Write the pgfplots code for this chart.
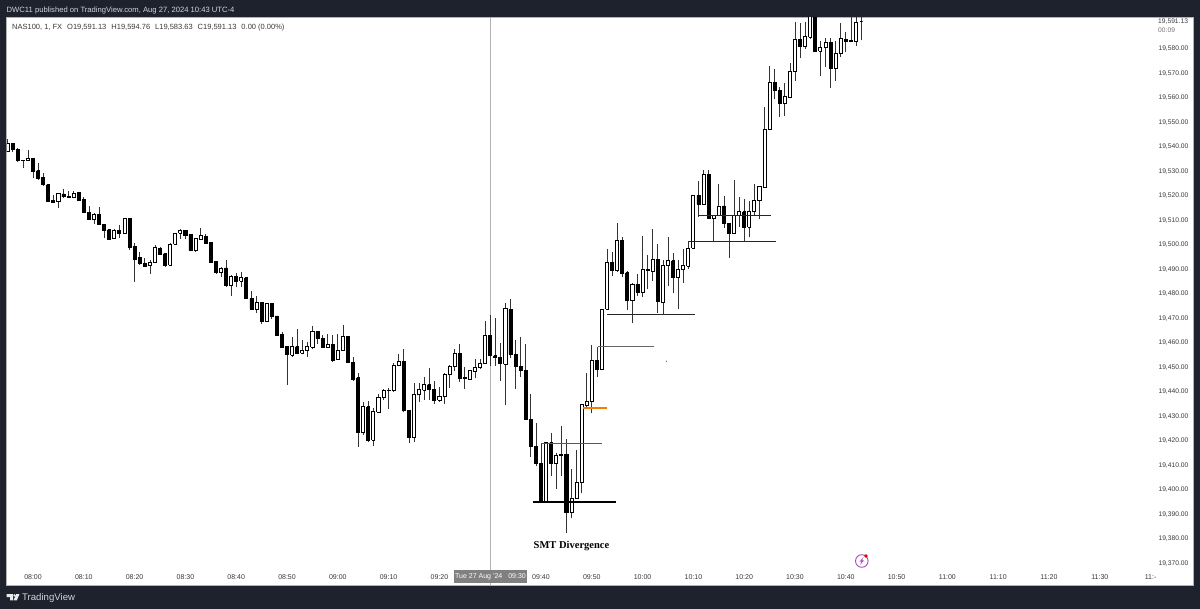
\documentclass[border=0pt]{standalone}
\usepackage{fontspec}
\setmainfont{Liberation Sans}
\newfontfamily\smtfont{Liberation Serif}
\usepackage{pgfplots}
\usepackage{pgfplotstable}
\pgfplotsset{compat=1.18}
\definecolor{frame}{HTML}{1E222D}
\definecolor{hdr}{HTML}{D1D4DC}
\definecolor{txt}{HTML}{3A3A3A}
\pgfplotstableread{
t O H L C
475 19538.3 19543.1 19538.1 19541.5
476 19541.5 19541.5 19538.1 19538.8
477 19538.8 19539.4 19533.7 19534.3
478 19534.3 19534.5 19531.3 19534.5
479 19534.4 19538.6 19534.4 19535.4
480 19535.2 19535.2 19527.2 19530.2
481 19530.3 19533.3 19526.5 19527.2
482 19527.6 19529.5 19524.1 19524.5
483 19524.6 19524.6 19517.7 19517.9
484 19518.3 19520.4 19517.2 19517.5
485 19517.7 19520.9 19515.1 19520.9
486 19520.8 19522.8 19519.2 19519.6
487 19519.7 19522.2 19519.0 19519.3
488 19519.2 19522.2 19519.0 19521.1
489 19521.3 19521.7 19517.9 19518.3
490 19518.6 19519.4 19512.9 19513.3
491 19513.4 19516.0 19510.2 19510.4
492 19510.3 19512.9 19508.5 19512.5
493 19512.5 19515.6 19508.0 19508.3
494 19508.4 19508.4 19502.8 19506.1
495 19506.2 19506.2 19502.1 19502.4
496 19502.6 19506.4 19502.4 19506.0
497 19506.0 19508.3 19502.8 19504.9
498 19504.7 19511.1 19504.5 19510.9
499 19510.9 19510.9 19498.0 19499.0
500 19499.3 19500.6 19485.0 19494.2
501 19494.7 19497.0 19492.0 19492.5
502 19492.5 19494.8 19490.9 19491.4
503 19491.5 19494.0 19488.1 19493.0
504 19492.9 19500.0 19492.5 19498.9
505 19498.7 19499.3 19495.9 19496.2
506 19496.4 19496.7 19491.1 19491.8
507 19491.7 19500.9 19491.4 19500.2
508 19500.2 19505.0 19500.0 19504.9
509 19504.7 19506.4 19502.4 19506.0
510 19506.0 19506.0 19502.4 19504.0
511 19504.2 19504.2 19497.5 19497.8
512 19497.7 19502.8 19497.2 19502.6
513 19502.3 19506.8 19502.0 19503.8
514 19503.6 19504.3 19500.2 19500.6
515 19500.9 19501.2 19492.8 19493.0
516 19493.2 19493.6 19488.1 19488.7
517 19488.7 19491.1 19486.8 19490.6
518 19490.6 19493.8 19482.9 19483.4
519 19483.4 19487.7 19479.1 19487.2
520 19487.2 19488.4 19482.7 19485.3
521 19485.1 19489.1 19483.0 19486.6
522 19486.6 19486.6 19478.0 19478.1
523 19478.2 19481.2 19473.6 19473.8
524 19473.7 19479.3 19472.3 19476.6
525 19476.6 19476.6 19467.8 19468.7
526 19468.8 19476.4 19468.5 19476.2
527 19476.2 19476.2 19469.6 19470.7
528 19471.0 19471.0 19462.9 19463.2
529 19463.5 19464.3 19457.9 19458.2
530 19458.5 19458.5 19442.8 19455.1
531 19454.9 19462.3 19454.2 19458.5
532 19458.5 19465.5 19455.4 19455.7
533 19455.7 19461.2 19455.3 19457.1
534 19456.8 19460.5 19454.4 19458.5
535 19458.2 19467.0 19457.4 19464.6
536 19464.5 19464.7 19459.6 19461.7
537 19461.9 19463.2 19458.0 19458.3
538 19458.3 19463.5 19458.0 19459.4
539 19459.5 19463.2 19452.1 19453.0
540 19453.2 19463.5 19452.9 19457.1
541 19457.0 19467.2 19456.7 19462.8
542 19462.8 19462.8 19451.6 19451.9
543 19452.0 19454.1 19444.6 19445.2
544 19445.7 19447.6 19417.6 19423.6
545 19423.4 19435.7 19422.4 19433.9
546 19433.9 19436.1 19419.5 19420.1
547 19420.2 19433.3 19417.9 19432.2
548 19431.8 19439.1 19431.5 19437.6
549 19437.6 19441.3 19436.7 19440.5
550 19440.4 19441.7 19433.1 19440.6
551 19440.4 19451.9 19440.0 19451.0
552 19450.7 19455.3 19450.6 19452.5
553 19452.6 19457.6 19431.8 19432.3
554 19432.6 19432.6 19419.3 19421.4
555 19421.4 19443.5 19419.5 19438.9
556 19438.9 19443.5 19436.0 19440.8
557 19440.6 19445.9 19436.7 19443.1
558 19443.0 19449.6 19436.7 19440.9
559 19441.0 19444.4 19435.1 19436.7
560 19436.5 19442.1 19436.0 19438.3
561 19438.2 19447.6 19435.1 19447.3
562 19447.0 19451.0 19441.4 19450.4
563 19450.3 19457.4 19448.4 19455.5
564 19455.5 19459.4 19444.2 19445.5
565 19445.4 19450.0 19441.3 19445.8
566 19445.1 19449.0 19444.9 19448.7
567 19448.4 19453.3 19445.5 19450.0
568 19449.8 19453.3 19449.2 19451.7
569 19451.5 19468.9 19451.4 19463.2
570 19463.2 19471.4 19450.6 19454.7
571 19454.8 19470.0 19450.6 19454.0
572 19454.1 19459.8 19444.6 19451.7
573 19451.4 19476.4 19434.6 19474.0
574 19473.8 19477.8 19454.0 19455.3
575 19455.3 19461.2 19441.0 19450.3
576 19450.3 19462.3 19446.2 19448.9
577 19448.9 19459.4 19428.5 19428.8
578 19428.8 19439.0 19413.5 19417.6
579 19417.9 19427.2 19409.9 19410.6
580 19410.8 19419.3 19394.9 19394.9
581 19394.9 19419.3 19394.9 19419.3
582 19419.3 19423.3 19405.8 19410.6
583 19410.6 19414.9 19400.3 19414.1
584 19414.6 19426.0 19405.7 19414.0
585 19414.5 19420.8 19382.5 19390.7
586 19390.7 19408.4 19388.4 19396.7
587 19396.5 19416.3 19396.3 19403.2
588 19403.1 19434.9 19398.6 19434.9
589 19434.6 19447.6 19434.0 19436.1
590 19436.1 19459.1 19431.2 19453.0
591 19453.0 19458.2 19445.9 19449.3
592 19449.2 19473.7 19449.2 19473.7
593 19473.7 19498.2 19473.5 19492.9
594 19492.9 19497.0 19487.3 19489.5
595 19489.4 19509.1 19488.8 19502.0
596 19502.0 19503.4 19487.1 19488.4
597 19488.7 19489.5 19473.5 19477.3
598 19477.3 19484.3 19468.3 19483.9
599 19483.9 19488.2 19479.2 19480.8
600 19480.7 19503.7 19478.6 19490.0
601 19489.8 19495.9 19481.9 19489.4
602 19489.2 19506.5 19485.3 19494.1
603 19493.9 19500.3 19472.1 19476.9
604 19476.7 19493.9 19471.8 19491.8
605 19491.6 19503.4 19483.4 19493.5
606 19493.5 19496.9 19480.3 19486.7
607 19486.7 19493.9 19473.7 19489.8
608 19489.8 19498.2 19484.3 19491.6
609 19491.4 19501.4 19490.2 19498.6
610 19498.7 19520.2 19498.2 19520.2
611 19520.2 19526.3 19511.6 19516.6
612 19516.6 19530.6 19516.3 19528.9
613 19528.6 19530.6 19510.9 19510.9
614 19510.9 19512.3 19501.8 19512.0
615 19511.9 19524.9 19511.9 19515.9
616 19515.9 19520.0 19506.8 19508.6
617 19508.6 19508.6 19494.6 19504.5
618 19504.5 19526.6 19504.5 19512.0
619 19511.9 19519.5 19507.5 19513.5
620 19513.5 19518.7 19501.4 19507.2
621 19507.2 19518.1 19503.1 19513.8
622 19513.6 19524.9 19511.9 19518.0
623 19518.0 19523.8 19510.5 19523.8
624 19523.5 19556.2 19523.5 19547.2
625 19547.2 19573.0 19546.9 19566.4
626 19566.4 19571.9 19559.4 19563.0
627 19563.2 19564.3 19552.1 19557.7
628 19557.7 19566.2 19552.6 19560.6
629 19560.2 19574.1 19559.8 19571.0
630 19570.9 19590.9 19567.0 19583.9
631 19583.9 19590.7 19576.4 19581.2
632 19580.9 19591.1 19580.2 19585.0
633 19584.7 19600.0 19584.0 19594.0
634 19594.0 19600.0 19579.0 19579.2
635 19579.0 19583.4 19569.0 19580.8
636 19580.5 19584.3 19572.8 19582.7
637 19582.7 19584.3 19563.9 19571.9
638 19571.9 19583.2 19567.0 19578.2
639 19578.2 19590.7 19576.8 19584.3
640 19584.0 19587.0 19578.6 19583.1
641 19583.0 19596.0 19583.0 19583.4
642 19583.0 19593.0 19581.2 19590.9
643 19591.13 19594.76 19583.63 19591.13
}\candles
\newcommand\getcell[2]{\pgfplotstablegetelem{#1}{#2}\of\candles\edef\cell{\pgfplotsretval}}
\newcommand\drawcandle[1]{%
  \getcell{#1}{t}\let\T\cell
  \getcell{#1}{O}\let\Oo\cell
  \getcell{#1}{H}\let\Hh\cell
  \getcell{#1}{L}\let\Ll\cell
  \getcell{#1}{C}\let\Cc\cell
  \edef\Xa{\fpeval{\T-0.3}}\edef\Xb{\fpeval{\T+0.3}}%
  \ifnum\fpeval{\Cc>\Oo}=1 \def\bodyfill{white}\else\def\bodyfill{black}\fi
  \edef\doit{%
    \noexpand\addplot[forget plot, black!80, line width=.7pt] coordinates {(\T,\Ll)(\T,\Hh)};
    \noexpand\addplot[forget plot, draw=black, fill=\bodyfill, line width=.85pt, line join=miter]
      coordinates {(\Xa,\Oo)(\Xb,\Oo)(\Xb,\Cc)(\Xa,\Cc)(\Xa,\Oo)};
  }\doit
}
\begin{document}
\begin{tikzpicture}[x=1pt,y=1pt]
\useasboundingbox (0,0) rectangle (1200,-609);
\fill[frame] (0,0) rectangle (1200,-609);
\begin{axis}[
  at={(6.5pt,-585pt)}, anchor=south west,
  scale only axis, width=1186.5pt, height=567.5pt,
  xmin=474.78, xmax=708.35, ymin=19361.15, ymax=19592.86,
  axis background/.style={fill=white},
  axis line style={draw=black!30, line width=.6pt},
  major tick length=0pt, tick style={draw=none},
  scaled y ticks=false, scaled x ticks=false,
  no markers,
  ytick={19370,19380,19390,19400,19410,19420,19430,19440,19450,19460,19470,19480,19490,19500,19510,19520,19530,19540,19550,19560,19570,19580},
  yticklabels={{19,370.00},{19,380.00},{19,390.00},{19,400.00},{19,410.00},{19,420.00},{19,430.00},{19,440.00},{19,450.00},{19,460.00},{19,470.00},{19,480.00},{19,490.00},{19,500.00},{19,510.00},{19,520.00},{19,530.00},{19,540.00},{19,550.00},{19,560.00},{19,570.00},{19,580.00}},
  yticklabel pos=right,
  y tick label style={anchor=west, xshift=-38pt, text=txt, font=\fontsize{6.7}{8}\selectfont},
  xtick={480,490,500,510,520,530,540,550,560,570,580,590,600,610,620,630,640,650,660,670,680,690,700},
  xticklabels={08:00,08:10,08:20,08:30,08:40,08:50,09:00,09:10,09:20,,09:40,09:50,10:00,10:10,10:20,10:30,10:40,10:50,11:00,11:10,11:20,11:30,11:-},
  x tick label style={anchor=base, yshift=5.2pt, text=txt, font=\fontsize{7}{8}\selectfont},
  clip=true,
]
% session cursor line
\addplot[forget plot, color=black!30, line width=.9pt] coordinates {(570,19361.15)(570,19592.86)};
% candles, one row of the table at a time
\pgfplotsforeachungrouped \r in {0,...,168}{\drawcandle{\r}}
% horizontal drawings
\addplot[forget plot, black, line width=2pt] coordinates {(578.4,19395)(594.8,19395)};
\addplot[forget plot, black!65, line width=.9pt] coordinates {(580,19419.1)(592,19419.1)};
\addplot[forget plot, color={rgb,255:red,245;green,124;blue,0}, line width=1.7pt] coordinates {(588.3,19433.3)(593,19433.3)};
\addplot[forget plot, black!60, line width=.9pt] coordinates {(591.2,19458.5)(602.2,19458.5)};
\addplot[forget plot, black!85, line width=.8pt] coordinates {(593,19471.7)(610.3,19471.7)};
\addplot[forget plot, black!85, line width=.8pt] coordinates {(609.1,19501.4)(626.2,19501.4)};
\addplot[forget plot, black!85, line width=.8pt] coordinates {(611,19511.9)(625.3,19511.9)};
\addplot[forget plot, only marks, mark=*, mark size=.4pt, black!60] coordinates {(604.7,19452.5)};
\end{axis}
% header and legend
\node[anchor=west, inner sep=0, text=hdr, font=\fontsize{7.65}{10}\selectfont] at (6.5,-10.5) {DWC11 published on TradingView.com, Aug 27, 2024 10:43 UTC-4};
\node[anchor=west, inner sep=0, text=txt, font=\fontsize{7.5}{10}\selectfont] at (12,-28) {NAS100, 1, FX\hspace{5pt}O19,591.13\hspace{5pt}H19,594.76\hspace{5pt}L19,583.63\hspace{5pt}C19,591.13\hspace{5pt}0.00 (0.00\%)};
% last price labels
\node[anchor=west, inner sep=0, text=txt, font=\fontsize{6.7}{8}\selectfont] at (1158,-22) {19,591.13};
\node[anchor=west, inner sep=0, text=txt!70, font=\fontsize{6.7}{8}\selectfont] at (1158,-30) {00:09};
% annotation
\node[inner sep=0, font=\smtfont\bfseries\fontsize{10.5}{12}\selectfont, text=black] at (571.5,-546) {SMT Divergence};
% cursor time label
\fill[black!50] (454,-569.5) rectangle (527,-582.5);
\node[inner sep=0, text=white, font=\fontsize{7}{8}\selectfont] at (490.5,-577) {Tue 27 Aug '24\hspace{6pt}09:30};
% bolt icon
\definecolor{pur}{HTML}{AB47BC}
\draw[pur, line width=.9pt] (861.8,-561) circle (6.3);
\fill[pur] (863.6,-557) -- (859.6,-561.6) -- (861.6,-561.6) -- (860,-565) -- (864,-560.4) -- (862,-560.4) -- cycle;
\fill[red!90!black] (866,-556) circle (1.9);
% footer logo
\fill[hdr!50!white] (6.5,-594) -- (13,-594) -- (13,-600.3) -- (10,-600.3) -- (10,-597) -- (6.5,-597) -- cycle;
\fill[hdr!50!white] (14.6,-595.4) circle (1.3);
\fill[hdr!50!white] (16.2,-594) -- (19.5,-594) -- (16.8,-600.3) -- (13.6,-600.3) -- cycle;
\node[anchor=west, inner sep=0, text=hdr, font=\fontsize{9.6}{11}\selectfont] at (22,-598.5) {TradingView};
\end{tikzpicture}
\end{document}
